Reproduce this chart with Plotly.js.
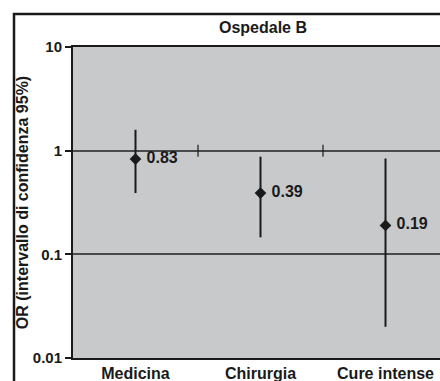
<!DOCTYPE html>
<html>
<head>
<meta charset="utf-8">
<script src="https://cdn.plot.ly/plotly-3.0.1.min.js"></script>
<style>html,body{margin:0;padding:0;background:#fff;}#chart{width:440px;height:381px;}</style>
</head>
<body>
<div id="chart"></div>
<script>
const categories = ['Medicina', 'Chirurgia', 'Cure intense'];
const orValues = [0.83, 0.39, 0.19];
const ciUpper = [1.59, 0.875, 0.84];
const ciLower = [0.39, 0.146, 0.020];
const labels = ['0.83', '0.39', '0.19'];
const yTickVals = [0.01, 0.1, 1, 10];
const yTickText = ['0.01', '0.1', '1', '10'];
const boundaries = [0.5, 1.5];

const font = 'Liberation Sans, Arial, sans-serif';
const dark = '#1a1a1a';

const trace = {
  x: [0, 1, 2],
  y: orValues,
  type: 'scatter',
  mode: 'markers+text',
  text: labels.map(t => '\u00a0' + t),
  textposition: 'middle right',
  textfont: {family: font, size: 16, color: dark, weight: 'bold'},
  marker: {symbol: 'diamond', size: 9, color: dark},
  error_y: {
    type: 'data', symmetric: false,
    array: ciUpper.map((u, i) => u - orValues[i]),
    arrayminus: ciLower.map((l, i) => orValues[i] - l),
    width: 0, thickness: 2, color: dark
  },
  cliponaxis: false,
  hoverinfo: 'none'
};

const shapes = boundaries.map(b => ({
  type: 'line', xref: 'x', yref: 'paper',
  x0: b, x1: b, ysizemode: 'pixel', yanchor: 2/3, y0: -6, y1: 6,
  line: {color: dark, width: 1.2}
}));
shapes.push({
  type: 'rect', xref: 'paper', yref: 'paper',
  xsizemode: 'pixel', xanchor: 0, x0: -59, x1: 500,
  ysizemode: 'pixel', yanchor: 1, y0: 33, y1: -500,
  line: {color: dark, width: 2.5}, layer: 'above'
});

const layout = {
  width: 440, height: 381,
  margin: {l: 73, r: 0, t: 47, b: 23, pad: 0},
  paper_bgcolor: '#ffffff',
  plot_bgcolor: '#c8c9cb',
  showlegend: false,
  title: {text: '<b>Ospedale B</b>', font: {family: font, size: 16, color: dark},
          x: 263/440, xanchor: 'center', y: 1 - 27/381, yanchor: 'middle'},
  xaxis: {
    type: 'linear', range: [-0.5, 2.436], tickvals: [0, 1, 2], ticktext: categories,
    showgrid: false, zeroline: false, showline: true, mirror: true,
    linecolor: dark, linewidth: 2, ticks: '',
    tickfont: {family: font, size: 16, color: dark, weight: 'bold'}, fixedrange: true
  },
  yaxis: {
    type: 'log', range: [-2, 1], tickvals: yTickVals, ticktext: yTickText,
    showgrid: true, gridcolor: '#4a4a4a', gridwidth: 2, zeroline: false,
    showline: true, mirror: true, linecolor: dark, linewidth: 2,
    ticks: 'outside', ticklen: 6, tickwidth: 2, tickcolor: dark,
    tickfont: {family: font, size: 15, color: dark, weight: 'bold'},
    title: {text: '<b>OR (intervallo di confidenza 95%)</b>', font: {family: font, size: 16, color: dark}, standoff: 0},
    fixedrange: true
  },
  shapes: shapes
};

Plotly.newPlot('chart', [trace], layout, {displayModeBar: false, staticPlot: true});
</script>
</body>
</html>
